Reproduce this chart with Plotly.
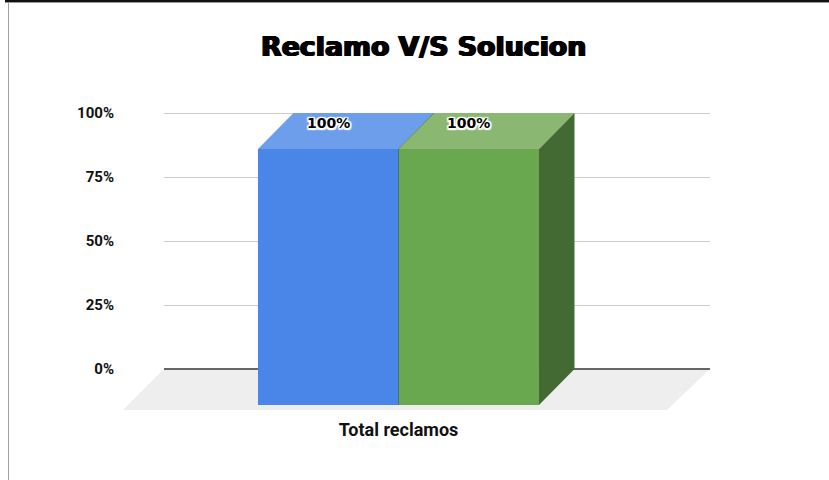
import plotly.graph_objects as go

W, H = 829, 480
categories = ["Total reclamos"]
series_names = ["Reclamos", "Solucion"]
reclamos = [100]
solucion = [100]
y_tick_vals = [0, 25, 50, 75, 100]
y_tick_text = ["0%", "25%", "50%", "75%", "100%"]
title_text = "Reclamo V/S Solucion"

BLUE, BLUE_TOP = "#4a86e8", "#6d9eeb"
GREEN, GREEN_TOP, GREEN_SIDE = "#6aa84f", "#8ab873", "#436a32"

# chart frame, in page pixels
BACK_L, BACK_R, BACK_T, BACK_B = 164, 710, 113, 369
DX, DY = 35.5, 36                     # depth of the 3D effect
FRONT_L, FRONT_R = 122.5, 674.5
FRONT_T, FRONT_B = BACK_T + DY, BACK_B + DY
GROUP_W = 281
Y_MAX = 100
HEAD = 3                              # spare pixels above the top gridline, so Plotly keeps it


def px(x):
    return x / W


def py(y):
    return 1 - y / H


def front_y(v):
    return FRONT_B - (FRONT_B - FRONT_T) * v / Y_MAX


def poly(pts, color):
    path = "M " + " L ".join(f"{px(a):.5f},{py(b):.5f}" for a, b in pts) + " Z"
    return dict(type="path", path=path, xref="paper", yref="paper",
                fillcolor=color, line=dict(width=0), layer="above")


fig = go.Figure()
# invisible trace: keeps the back-wall axes (grid and % labels) on the page
fig.add_scatter(x=[0.5], y=[max(reclamos)], mode="markers", marker=dict(opacity=0), hoverinfo="skip",
                xaxis="x", yaxis="y")
fig.add_bar(x=categories, y=reclamos, name=series_names[0], marker=dict(color=BLUE, line=dict(width=0)),
            xaxis="x2", yaxis="y2")
fig.add_bar(x=categories, y=solucion, name=series_names[1], marker=dict(color=GREEN, line=dict(width=0)),
            xaxis="x2", yaxis="y2")

centre = (FRONT_L + FRONT_R) / 2
bar_w = GROUP_W / 2
x0, x1, x2 = centre - bar_w, centre, centre + bar_w
yb, yg = front_y(reclamos[0]), front_y(solucion[0])
shapes = [
    dict(type="path", xref="paper", yref="paper", layer="below", fillcolor="#eeeeee", line=dict(width=0),
         path="M " + " L ".join(f"{px(a):.5f},{py(b):.5f}" for a, b in
                                [(BACK_L, BACK_B), (BACK_R, BACK_B), (BACK_R - 43, 410), (BACK_L - 41, 410)]) + " Z"),
    poly([(x0, yb), (x1, yb), (x1 + DX, yb - DY), (x0 + DX, yb - DY)], BLUE_TOP),
    poly([(x1, yg), (x2, yg), (x2 + DX, yg - DY), (x1 + DX, yg - DY)], GREEN_TOP),
    poly([(x2, yg), (x2 + DX, yg - DY), (x2 + DX, FRONT_B - DY), (x2, FRONT_B)], GREEN_SIDE),
    dict(type="line", xref="paper", yref="paper", x0=px(x1), x1=px(x1), y0=py(yb), y1=py(FRONT_B),
         line=dict(color="#3f6f8f", width=1), layer="above"),
    dict(type="line", xref="paper", yref="paper", x0=px(x1), x1=px(x1 + DX), y0=py(yb), y1=py(yb - DY),
         line=dict(color="#5f8f5f", width=1), layer="above"),
    dict(type="line", xref="paper", yref="paper", x0=px(8.5), x1=px(8.5), y0=py(3), y1=0,
         line=dict(color="#a0a0a0", width=1), layer="above"),
    dict(type="rect", xref="paper", yref="paper", x0=px(5), x1=1, y0=py(2), y1=1,
         fillcolor="#111111", line=dict(width=0), layer="above"),
    dict(type="rect", xref="paper", yref="paper", x0=px(5), x1=1, y0=py(3), y1=py(2),
         fillcolor="#999999", line=dict(width=0), layer="above"),
]

halo = ", ".join(f"{a}px {b}px 1px #fff" for a in (-1.5, 0, 1.5) for b in (-1.5, 0, 1.5))
annotations = [
    dict(text=f"{v}%", xref="paper", yref="paper", x=px(cx), y=py(vy), showarrow=False,
         xanchor="center", yanchor="middle",
         font=dict(family="DejaVu Sans", size=14, color="#000", weight=700, shadow=halo))
    for v, cx, vy in [(reclamos[0], (x0 + x1) / 2, yb - 26), (solucion[0], (x1 + x2) / 2, yg - 26)]
]
annotations.append(dict(text=title_text, xref="paper", yref="paper", x=px(423), y=py(47), showarrow=False,
                        xanchor="center", yanchor="middle",
                        font=dict(family="DejaVu Sans", size=26.8, color="#000", weight=700,
                                  shadow="1px 0 0 #000, -1px 0 0 #000, 0 0.4px 0 #000")))

fig.update_layout(
    width=W, height=H, margin=dict(l=0, r=0, t=0, b=0, autoexpand=False),
    paper_bgcolor="#fff", plot_bgcolor="rgba(0,0,0,0)",
    showlegend=False, barmode="group", bargap=1 - GROUP_W / (FRONT_R - FRONT_L), bargroupgap=0,
    shapes=shapes, annotations=annotations,
    font=dict(family="Roboto", color="#111"),
    xaxis=dict(domain=[px(BACK_L), px(BACK_R)], anchor="y", range=[0, 1], showgrid=False, showticklabels=False,
               zeroline=False, ticks=""),
    yaxis=dict(domain=[py(BACK_B), py(BACK_T - HEAD)], anchor="x",
               range=[0, Y_MAX * (BACK_B - BACK_T + HEAD) / (BACK_B - BACK_T)], tickvals=y_tick_vals,
               ticktext=y_tick_text, gridcolor="#cccccc", gridwidth=1, zeroline=True, zerolinecolor="#666666",
               zerolinewidth=2, ticks="", ticklabelstandoff=49, showline=False,
               tickfont=dict(family="Roboto", size=15, color="#111", weight=700)),
    xaxis2=dict(domain=[px(FRONT_L), px(FRONT_R)], anchor="y2", type="category", range=[-0.5, 0.5], showgrid=False,
                zeroline=False, ticks="", ticklabelstandoff=12, showline=False,
                tickfont=dict(family="Roboto", size=18, color="#111", weight=700)),
    yaxis2=dict(domain=[py(FRONT_B), py(FRONT_T)], anchor="x2", range=[0, Y_MAX], showgrid=False, zeroline=False,
                showticklabels=False, ticks=""),
)
fig.write_html("out.html", config={"displayModeBar": False}, post_script="document.body.style.margin='0';")
